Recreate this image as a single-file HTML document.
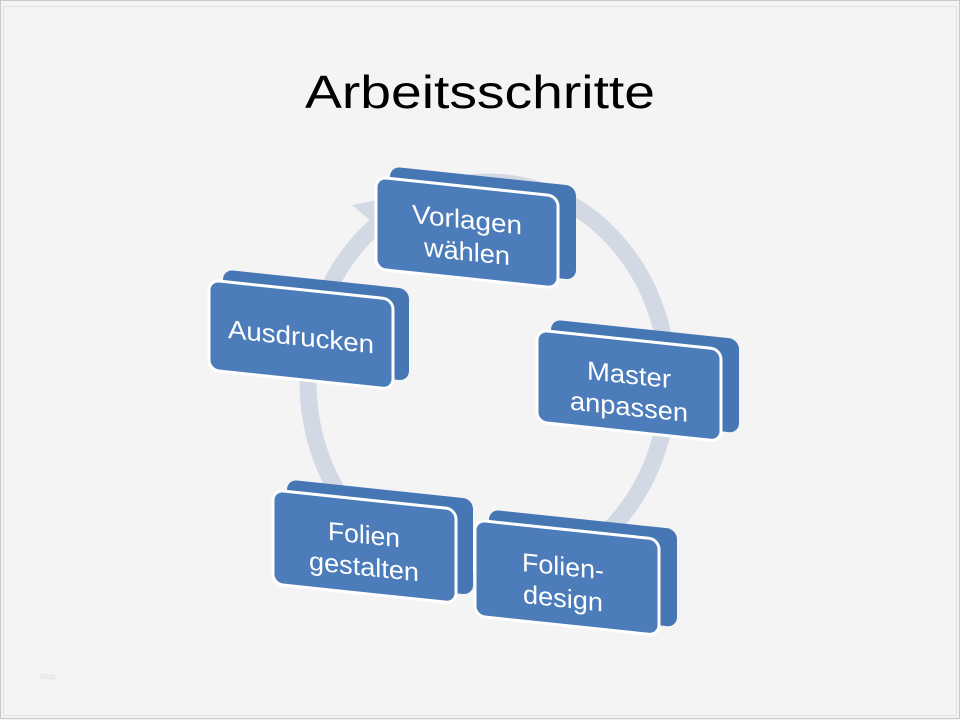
<!DOCTYPE html>
<html><head><style>
html,body{margin:0;padding:0;background:#f4f4f4;}
svg{display:block}
</style></head><body>
<svg width="960" height="720" viewBox="0 0 960 720" xmlns="http://www.w3.org/2000/svg">
<rect x="0" y="0" width="960" height="720" fill="#f4f4f4"/>
<rect x="0.5" y="0.5" width="959" height="718" fill="none" stroke="#c8c8c8" stroke-width="1"/>
<rect x="3.5" y="6.5" width="953" height="709" fill="none" stroke="#e2e2e2" stroke-width="1"/>
<text x="480" y="108" text-anchor="middle" font-family="Liberation Sans, sans-serif" font-size="46" fill="#000" textLength="350" lengthAdjust="spacingAndGlyphs">Arbeitsschritte</text>
<text x="40" y="679" font-family="Liberation Sans, sans-serif" font-size="8" fill="#ddd">blog</text>

<ellipse cx="488" cy="382" rx="180" ry="200" fill="none" stroke="#d3d9e4" stroke-width="17"/>
<polygon points="352,205 378,200 372,222" fill="#d3d9e4"/>

<g font-family="Liberation Sans, sans-serif" font-size="26" fill="#fff" text-anchor="middle">
<g transform="translate(376,177) skewY(6)">
<rect x="14" y="-12" width="186" height="94" rx="10" fill="#4677b4"/>
<rect x="0" y="0" width="182" height="92" rx="10" fill="#4c7dba" stroke="#fff" stroke-width="3"/>
<text x="91" y="42" textLength="110" lengthAdjust="spacingAndGlyphs">Vorlagen</text><text x="91" y="74" textLength="86" lengthAdjust="spacingAndGlyphs">wählen</text>
</g>
<g transform="translate(209,280) skewY(6)">
<rect x="14" y="-12" width="186" height="92" rx="10" fill="#4677b4"/>
<rect x="0" y="0" width="184" height="90" rx="10" fill="#4c7dba" stroke="#fff" stroke-width="3"/>
<text x="92" y="56" textLength="146" lengthAdjust="spacingAndGlyphs">Ausdrucken</text>
</g>
<g transform="translate(537,330) skewY(6)">
<rect x="14" y="-12" width="188" height="94" rx="10" fill="#4677b4"/>
<rect x="0" y="0" width="184" height="92" rx="10" fill="#4c7dba" stroke="#fff" stroke-width="3"/>
<text x="92" y="44" textLength="84" lengthAdjust="spacingAndGlyphs">Master</text><text x="92" y="76" textLength="118" lengthAdjust="spacingAndGlyphs">anpassen</text>
</g>
<g transform="translate(273,490) skewY(6)">
<rect x="14" y="-12" width="186" height="96" rx="10" fill="#4677b4"/>
<rect x="0" y="0" width="183" height="94" rx="10" fill="#4c7dba" stroke="#fff" stroke-width="3"/>
<text x="91" y="44" textLength="72" lengthAdjust="spacingAndGlyphs">Folien</text><text x="91" y="76" textLength="110" lengthAdjust="spacingAndGlyphs">gestalten</text>
</g>
<g transform="translate(475,520) skewY(6)">
<rect x="14" y="-12" width="188" height="98" rx="10" fill="#4677b4"/>
<rect x="0" y="0" width="184" height="96" rx="10" fill="#4c7dba" stroke="#fff" stroke-width="3"/>
<text x="88" y="46" textLength="82" lengthAdjust="spacingAndGlyphs">Folien-</text><text x="88" y="78" textLength="80" lengthAdjust="spacingAndGlyphs">design</text>
</g>
</g>
</svg>
</body></html>
